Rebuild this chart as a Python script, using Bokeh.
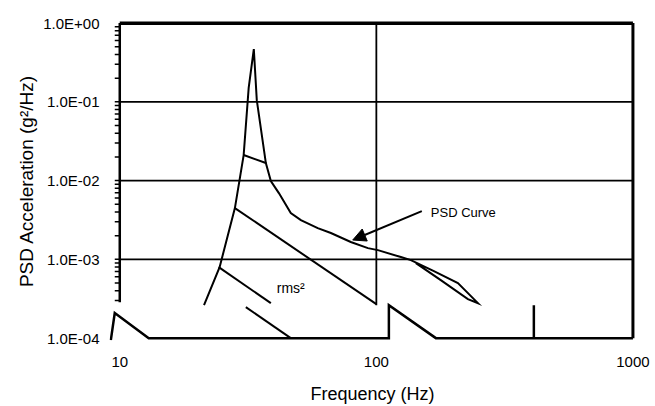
from bokeh.plotting import figure
from bokeh.models import FixedTicker, CustomJSTickFormatter, Arrow, NormalHead
from bokeh.core.properties import value
from bokeh.embed import file_html
from bokeh.resources import INLINE

FONT = "Liberation Sans"

# Measured PSD curve (frequency in Hz, PSD in g^2/Hz); tail drawn as a thin sliver out and back
psd_freq = [21.3, 24.5, 28.1, 30.4, 31.8, 33.3, 34.2, 37.1, 38.8, 41.7, 46.4, 50.8,
            59.1, 66.5, 79.5, 92.7, 101.4, 124.6, 136.3, 167.6, 207.9, 248.8,
            227.4, 178.3, 142.6]
psd_val = [2.62e-4, 7.97e-4, 4.48e-3, 2.11e-2, 0.150, 0.468, 0.105, 1.67e-2, 9.86e-3,
           6.94e-3, 3.87e-3, 3.15e-3, 2.49e-3, 2.16e-3, 1.66e-3, 1.39e-3, 1.31e-3,
           1.07e-3, 9.78e-4, 7.09e-4, 4.99e-4, 2.78e-4, 3.13e-4, 5.45e-4, 8.96e-4]

# rms^2 slope segments
rms_freq = [[30.4, 37.1], [28.1, 100.0], [24.3, 38.8], [31.0, 46.4]]
rms_val = [[2.11e-2, 1.67e-2], [4.48e-3, 2.7e-4], [7.97e-4, 2.78e-4], [2.48e-4, 1.0e-4]]

# bottom trace along the 1.0E-04 line
base_freq = [9.23, 9.56, 12.97, 111.9, 111.9, 170.6, 411.0, 411.0, 411.0, 1000.0]
base_val = [9.44e-5, 2.08e-4, 1.0e-4, 1.0e-4, 2.62e-4, 1.0e-4, 1.0e-4, 2.62e-4, 1.0e-4, 1.0e-4]

# frame / grid lines
frame_freq = [[10, 1000], [1000, 1000], [10, 10], [100, 100],
              [10, 1000], [10, 1000], [10, 1000]]
frame_val = [[1.0, 1.0], [1.0, 1.0e-4], [1.0, 2.86e-4], [1.0, 2.62e-4],
             [0.1, 0.1], [0.01, 0.01], [0.001, 0.001]]
frame_width = [4, 3, 2.5, 1.8, 1.8, 1.8, 1.8]

# ticks
xtick_values = [10, 100, 1000]
xtick_labels = ["10", "100", "1000"]
ytick_values = [1e-4, 1e-3, 1e-2, 1e-1, 1.0]
ytick_labels = ["1.0E-04", "1.0E-03", "1.0E-02", "1.0E-01", "1.0E+00"]
ytick_marks = [1e-3, 1e-2, 1e-1] + [k * d for d in [1e-4, 1e-3, 1e-2, 1e-1] for k in range(3, 10)] \
    + [k * d for d in [1e-3, 1e-2, 1e-1] for k in range(2, 3)]
tick_inner_freq = 10 ** (1 - 5 / 256.5)   # tick marks stick out ~5 px left of the 10 Hz spine

# annotations
arrow_start = (150.4, 4.10e-3)
arrow_end = (80.9, 1.76e-3)
label_psd = (163.0, 3.98e-3, "PSD Curve")
label_rms = (40.9, 4.31e-4, "rms²")

p = figure(width=655, height=406, x_axis_type="log", y_axis_type="log",
           x_range=(10 ** 0.96, 10 ** 3.01), y_range=(10 ** -4.03, 10 ** 0.02),
           output_backend="svg", toolbar_location=None,
           min_border_left=109, min_border_right=20, min_border_top=21, min_border_bottom=66)
p.grid.visible = False
p.outline_line_color = None
p.background_fill_color = "white"

fmt_code = """
const i = tvals.findIndex(t => Math.abs(Math.log10(t) - Math.log10(tick)) < 1e-6);
return i >= 0 ? tlabels[i] : "";
"""

xa = p.xaxis[0]
xa.ticker = FixedTicker(ticks=xtick_values, minor_ticks=[])
xa.formatter = CustomJSTickFormatter(args=dict(tvals=xtick_values, tlabels=xtick_labels), code=fmt_code)
xa.axis_line_color = None
xa.major_tick_line_color = None
xa.minor_tick_line_color = None
xa.major_label_standoff = 10
xa.major_label_text_font = FONT
xa.major_label_text_font_size = "15px"
xa.major_label_text_color = "black"
xa.axis_label = "Frequency (Hz)"
xa.axis_label_text_font = FONT
xa.axis_label_text_font_size = "18px"
xa.axis_label_text_font_style = "normal"
xa.axis_label_text_color = "black"
xa.axis_label_standoff = 14

ya = p.yaxis[0]
ya.ticker = FixedTicker(ticks=ytick_values, minor_ticks=[])
ya.formatter = CustomJSTickFormatter(args=dict(tvals=ytick_values, tlabels=ytick_labels), code=fmt_code)
ya.axis_line_color = None
ya.major_tick_line_color = None
ya.minor_tick_line_color = None
ya.major_label_standoff = 4
ya.major_label_text_font = FONT
ya.major_label_text_font_size = "15px"
ya.major_label_text_color = "black"
ya.axis_label = "PSD Acceleration (g²/Hz)"
ya.axis_label_text_font = FONT
ya.axis_label_text_font_size = "19px"
ya.axis_label_text_font_style = "normal"
ya.axis_label_text_color = "black"
ya.axis_label_standoff = 3

# tick marks on the 10 Hz spine
p.segment(x0=[tick_inner_freq] * len(ytick_marks), y0=ytick_marks,
          x1=[10] * len(ytick_marks), y1=ytick_marks, line_color="black", line_width=1.5)

# frame and grid
for fx, fy, lw in zip(frame_freq, frame_val, frame_width):
    p.line(fx, fy, line_color="black", line_width=lw)

# bottom trace
p.line(base_freq, base_val, line_color="black", line_width=2.5, line_join="miter")

# rms^2 lines
p.multi_line(rms_freq, rms_val, line_color="black", line_width=2)

# PSD curve
p.line(psd_freq, psd_val, line_color="black", line_width=2, line_join="miter")

# annotations
p.add_layout(Arrow(end=NormalHead(size=13, fill_color="black", line_color="black"),
                   x_start=arrow_start[0], y_start=arrow_start[1],
                   x_end=arrow_end[0], y_end=arrow_end[1],
                   line_color="black", line_width=2))
p.text(x=[label_psd[0]], y=[label_psd[1]], text=[label_psd[2]],
       text_font=value(FONT), text_font_size="13px", text_baseline="middle",
       text_align="left", text_color="black")
p.text(x=[label_rms[0]], y=[label_rms[1]], text=[label_rms[2]],
       text_font=value(FONT), text_font_size="14px", text_baseline="alphabetic",
       text_align="left", text_color="black")

open("out.html", "w").write(file_html(p, INLINE))
